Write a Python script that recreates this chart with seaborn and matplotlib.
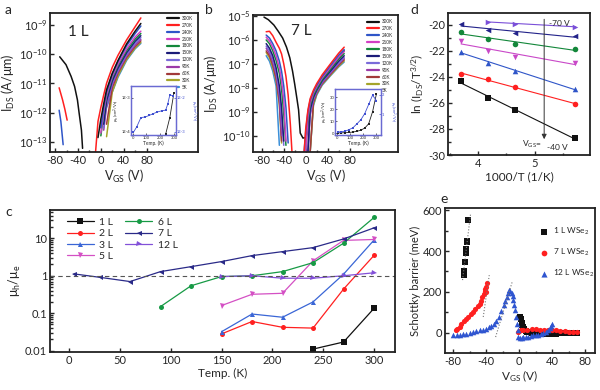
import numpy as np
import pandas as pd
import seaborn as sns
import matplotlib.pyplot as plt
from matplotlib.ticker import FixedLocator, NullLocator, MultipleLocator, LogLocator, FuncFormatter

nan = np.nan

# ---------------- panel a / b : transfer curves ----------------
TEMPS = ["300K", "270K", "240K", "210K", "180K", "150K", "120K", "90K", "60K", "30K", "5K"]
T_COLORS = ["#111111", "#ff2020", "#2f55c8", "#d23fc4", "#13873a", "#1b1b78",
            "#7a6bd9", "#9b3aa8", "#a23a3a", "#a5a52a", "#3b8fd8"]

# 1 L, electron branch (same Vgs grid for every temperature)
A_V_EL = [-10, -5, 0, 5, 10, 20, 30, 45, 60, 70]
A_I_EL = [
    [nan, 1.4e-13, 6e-13, 2e-12, 6e-12, 2.2e-11, 6e-11, 2.2e-10, 6e-10, 1.1e-9],
    [3e-14, 5e-13, 1.5e-12, 4e-12, 1e-11, 3.5e-11, 9e-11, 3e-10, 8.5e-10, 1.7e-9],
    [nan, nan, 3e-13, 1.5e-12, 5e-12, 2e-11, 5.5e-11, 1.9e-10, 5e-10, 9e-10],
    [nan, nan, 2e-13, 1.1e-12, 4e-12, 1.7e-11, 4.5e-11, 1.5e-10, 3.8e-10, 6e-10],
    [nan, nan, 1.6e-13, 9e-13, 3.5e-12, 1.5e-11, 4e-11, 1.3e-10, 3.2e-10, 5e-10],
    [nan, nan, nan, 4e-13, 2.5e-12, 1.2e-11, 3.3e-11, 1.1e-10, 2.7e-10, 4.2e-10],
    [nan, nan, nan, 3e-13, 2e-12, 1e-11, 2.8e-11, 9.5e-11, 2.3e-10, 3.6e-10],
    [nan, nan, nan, 2.5e-13, 1.6e-12, 9e-12, 2.5e-11, 8.5e-11, 2e-10, 3.1e-10],
    [nan, nan, nan, nan, 4e-13, 7e-12, 2.2e-11, 7.5e-11, 1.8e-10, 2.8e-10],
    [nan, nan, nan, nan, 1.5e-13, 5e-12, 1.8e-11, 6.5e-11, 1.6e-10, 2.5e-10],
    [nan, nan, nan, nan, 1.5e-12, 5e-12, 1.6e-11, 6e-11, 1.5e-10, 2.3e-10],
]
# 1 L, hole branch (300K, 270K, 240K only)
A_V_HOLE = [[-72, -61, -52, -46, -41, -38, -34, -32],
            [-73, -67, -63, -59],
            [-73, -70, -68, -66]]
A_I_HOLE = [[8e-11, 4.3e-11, 1.7e-11, 7.8e-12, 2.7e-12, 9.5e-13, 2.5e-13, 6e-14],
            [7e-12, 2.7e-12, 1.3e-12, 5.5e-13],
            [1.2e-12, 5e-13, 2e-13, 8e-14]]

# 7 L, 300K full sweep
B_V_300 = [-76, -68, -58, -50, -42, -35, -29, -24, -20, -16, -13, -10, -5, 0, 3, 6, 10, 20, 30, 45, 60, 70]
B_I_300 = [9e-6, 7e-6, 4.2e-6, 2.3e-6, 1.2e-6, 5e-7, 1.8e-7, 5e-8, 1.4e-8, 3.5e-9, 1.2e-9, 1.3e-10,
           8e-11, 8.5e-11, 1.5e-10, 8e-10, 2.5e-9, 1e-8, 2.5e-8, 6.5e-8, 1.7e-7, 3.5e-7]
# 7 L, hole branch 270K ... 5K
B_V_HOLE = [-72, -66, -60, -54, -48, -44, -40, -36, -32, -28, -25]
B_I_HOLE = [
    [2.2e-6, 2.3e-6, 1.5e-6, 8e-7, 4.5e-7, 2.6e-7, 1e-7, 3e-8, 5e-9, 3e-10, 2e-11],
    [1.6e-6, 1.2e-6, 7e-7, 3.5e-7, 1.3e-7, 5e-8, 1.2e-8, 1.5e-9, 5e-11, nan, nan],
    [1.3e-6, 9e-7, 5e-7, 2.2e-7, 7e-8, 2e-8, 3e-9, 6e-11, nan, nan, nan],
    [1e-6, 7e-7, 3.5e-7, 1.4e-7, 4e-8, 9e-9, 8e-10, 4e-11, nan, nan, nan],
    [7e-7, 4.5e-7, 2.2e-7, 7e-8, 1.2e-8, 1.5e-9, 6e-11, nan, nan, nan, nan],
    [5.5e-7, 3.5e-7, 1.6e-7, 5e-8, 7e-9, 6e-10, 4e-11, nan, nan, nan, nan],
    [4.5e-7, 2.8e-7, 1.2e-7, 3.5e-8, 4e-9, 1e-10, nan, nan, nan, nan, nan],
    [3.5e-7, 2.2e-7, 9e-8, 2.5e-8, 2.5e-9, 6e-11, nan, nan, nan, nan, nan],
    [3e-7, 1.8e-7, 7e-8, 2e-8, 2e-9, 5e-11, nan, nan, nan, nan, nan],
    [2.2e-7, 1.3e-7, 5e-8, 1.2e-8, 4e-11, nan, nan, nan, nan, nan, nan],
]
# 7 L, electron branch 270K ... 5K
B_V_EL = [-6, -3, 0, 4, 8, 14, 20, 30, 45, 60, 70]
B_I_EL = [
    [nan, 2e-11, 2e-10, 1.2e-9, 3.5e-9, 8e-9, 1.5e-8, 3.5e-8, 1e-7, 2.8e-7, 5e-7],
    [nan, 2e-11, 1.5e-10, 1e-9, 3e-9, 7e-9, 1.3e-8, 3e-8, 8.5e-8, 2.3e-7, 4e-7],
    [nan, nan, 2e-11, 6e-10, 2.3e-9, 6e-9, 1.1e-8, 2.6e-8, 7e-8, 1.9e-7, 3.3e-7],
    [nan, nan, 2e-11, 4e-10, 1.8e-9, 5e-9, 9e-9, 2.2e-8, 6e-8, 1.6e-7, 2.7e-7],
    [nan, nan, nan, 2e-11, 1.2e-9, 4e-9, 8e-9, 2e-8, 5e-8, 1.3e-7, 2.2e-7],
    [nan, nan, nan, 2e-11, 9e-10, 3.5e-9, 7e-9, 1.8e-8, 4.5e-8, 1.1e-7, 1.9e-7],
    [nan, nan, nan, 2e-11, 7e-10, 3e-9, 6.5e-9, 1.6e-8, 4e-8, 1e-7, 1.7e-7],
    [nan, nan, nan, nan, 2e-11, 2.5e-9, 6e-9, 1.5e-8, 3.7e-8, 9e-8, 1.5e-7],
    [nan, nan, nan, nan, 2e-11, 2e-9, 5.5e-9, 1.4e-8, 3.4e-8, 8e-8, 1.35e-7],
    [nan, nan, nan, nan, 2e-11, 1.8e-9, 5e-9, 1.3e-8, 3.2e-8, 7.5e-8, 1.2e-7],
]

# insets of a and b (mobility vs temperature)
INS_A_T_E = [5, 30, 60, 90, 120, 150, 180, 210, 240, 255, 270, 290]
INS_A_MU_E = [9.5e-4, 1.4e-3, 2.6e-3, 2.7e-3, 3.0e-3, 3.4e-3, 3.8e-3, 4.1e-3, 4.3e-3, 6.5e-3, 1.2e-2, 1.15e-2]
INS_A_T_H = [240, 270, 300]
INS_A_MU_H = [8.5e-5, 2.6e-4, 1.4e-3]
INS_B_T = [5, 30, 60, 90, 120, 150, 180, 210, 240, 270, 300]
INS_B_MU_H = [0.5, 0.5, 0.6, 0.8, 1.2, 1.8, 2.7, 4.5, 8, 18, 33]
INS_B_MU_E = [0.08, 0.09, 0.12, 0.2, 0.3, 0.5, 0.71, 1.03, 1.5, 1.98, 1.7]

# ---------------- panel c : mobility ratio ----------------
C_T = [5, 30, 60, 90, 120, 150, 180, 210, 240, 270, 300]
C_LABELS = ["1 L", "2 L", "3 L", "5 L", "6 L", "7 L", "12 L"]
C_RATIO = [
    [nan, nan, nan, nan, nan, nan, nan, nan, 0.011, 0.017, 0.135],
    [nan, nan, nan, nan, nan, 0.028, 0.06, 0.042, 0.04, 0.44, 3.5],
    [nan, nan, nan, nan, nan, 0.032, 0.095, 0.078, 0.2, 1.1, 9.0],
    [nan, nan, nan, nan, nan, 0.16, 0.32, 0.34, 2.5, 8.8, 9.3],
    [nan, nan, nan, 0.15, 0.54, 0.95, 1.0, 1.29, 2.24, 7.4, 36],
    [1.12, 0.91, 0.70, 1.29, 1.75, 2.39, 3.45, 4.41, 5.64, 9.6, 19],
    [nan, nan, nan, nan, nan, 0.95, 1.0, 0.86, 0.86, 1.0, 1.2],
]
C_COLORS = ["#111111", "#ff2020", "#3a66d6", "#d450c4", "#179a45", "#2a2a88", "#8250d8"]
C_MARKERS = ["s", "o", "^", "v", "o", "<", ">"]

# ---------------- panel d : Arrhenius plot ----------------
D_X = [3.70, 4.17, 4.65, 5.72]
D_Y = [
    [-24.31, -25.64, -26.54, -28.72],
    [-23.77, -24.15, -24.79, -26.08],
    [-22.05, -22.90, -23.51, -24.95],
    [-21.20, -22.00, -22.44, -22.90],
    [-20.51, -21.10, -21.46, -21.85],
    [-19.92, -20.38, -20.64, -20.85],
    [nan, -19.74, -19.92, -20.13],
]
D_COLORS = ["#111111", "#ff2020", "#2f55c8", "#c948c8", "#13873a", "#23238a", "#7a4fd8"]
D_MARKERS = ["s", "o", "^", "v", "o", "<", ">"]

# ---------------- panel e : Schottky barrier ----------------
E1_V = [-67, -66.5, -66, -65, -64.5, -64, -63.5, -63, -62.5,
        1, 2, 3, 4, 5, 6, 8, 10, 13, 16, 20, 25, 30, 35, 40, 45, 50, 55, 60, 65, 70]
E1_B = [285, 300, 345, 390, 400, 410, 445, 450, 550,
        78, 70, 50, 38, 28, 18, 10, 6, 3, 1, 0, -2, -4, -5, -5, -3, -1, 0, 0, 0, 0]
E7_V = [-77, -75, -72, -70, -67, -64, -62, -59, -56, -53, -50, -48, -46, -44.5, -43, -42, -41, -40.5, -40, -39.5,
        -2, 0, 2, 5, 10, 15, 20, 25, 30, 35, 40, 45, 50, 55, 60, 65, 70]
E7_B = [12, 18, 30, 46, 58, 70, 78, 90, 103, 115, 130, 142, 158, 175, 190, 205, 215, 200, 225, 245,
        5, 8, 12, 15, 16, 17, 17, 16, 15, 14, 13, 12, 10, 8, 6, 4, 3]
E12_V = [-80, -76, -72, -68, -64, -60, -56, -52, -48, -44, -40, -37, -34, -31, -28, -25, -22, -19, -17, -15,
         -13.5, -12.5, -11, -9, -8, -7, -6, -5, -4, -3, -2, -1, 1, 3, 5, 8, 11, 14, 17, 20, 23, 26, 29,
         32, 35, 37, 39, 40]
E12_B = [-11, -10, -9, -7, -4, 0, 4, 8, 12, 16, 21, 27, 34, 43, 58, 78, 105, 135, 155, 176,
         195, 212, 205, 193, 178, 160, 135, 111, 80, 46, 15, -20, -25, -23, -22, -20, -18, -15, -12, -10, -8, -5, 0,
         5, 15, 25, 35, 45]
E_FIT_V = [[-68.7, -58.9], [-43.6, -36.3], [-28.6, -8.4]]
E_FIT_B = [[258, 584], [78, 282], [-20, 250]]

# ---------------- style ----------------
sns.set_theme(style="ticks")
plt.rcParams["font.family"] = ["Lato", "DejaVu Sans"]
plt.rcParams.update({
    "mathtext.default": "regular",
    "axes.unicode_minus": False,
    "axes.linewidth": 1.3,
    "axes.edgecolor": "#222222",
    "xtick.direction": "in",
    "ytick.direction": "in",
    "xtick.major.size": 3,
    "ytick.major.size": 3,
    "xtick.minor.size": 1.8,
    "ytick.minor.size": 1.8,
    "xtick.major.width": 1,
    "ytick.major.width": 1,
    "xtick.labelsize": 8,
    "ytick.labelsize": 8,
    "axes.labelsize": 8.5,
    "axes.labelpad": 1.5,
    "xtick.major.pad": 2,
    "ytick.major.pad": 2,
})


def draw(ax, xs, ys, color, label=None, lw=1.1, **kw):
    d = pd.DataFrame({"x": xs, "y": ys}).dropna()
    sns.lineplot(data=d, x="x", y="y", ax=ax, color=color, lw=lw, sort=False,
                 estimator=None, label=label, **kw)


def box(l, t, r, b):
    return [l / 600, 1 - b / 390, (r - l) / 600, (b - t) / 390]


fig = plt.figure(figsize=(6, 3.9), dpi=100)
axA = fig.add_axes(box(50, 13, 198, 152))
axB = fig.add_axes(box(253, 15, 398, 152))
axD = fig.add_axes(box(448, 13, 590, 155))
axC = fig.add_axes(box(50, 210, 395, 352))
axE = fig.add_axes(box(445, 208, 595, 353))

# ---- a ----
for i in range(len(TEMPS) - 1, -1, -1):
    draw(axA, A_V_EL, A_I_EL[i], T_COLORS[i], label=TEMPS[i])
for k in range(3):
    draw(axA, A_V_HOLE[k], A_I_HOLE[k], T_COLORS[k])
axA.set_yscale("log")
axA.set_ylim(4.5e-14, 2.5e-9)
axA.set_xlim(-89, 170)

# ---- b ----
draw(axB, B_V_300, B_I_300, T_COLORS[0], label=TEMPS[0])
for i in range(len(TEMPS) - 1, 0, -1):
    draw(axB, B_V_HOLE, B_I_HOLE[i - 1], T_COLORS[i])
    draw(axB, B_V_EL, B_I_EL[i - 1], T_COLORS[i], label=TEMPS[i])
axB.set_yscale("log")
axB.set_ylim(2.1e-11, 1.1e-5)
axB.set_xlim(-96, 168)

for ax, corner in [(axA, (0.985, 1.0)), (axB, (0.985, 0.99))]:
    ax.xaxis.set_major_locator(FixedLocator([-80, -40, 0, 40, 80]))
    ax.xaxis.set_minor_locator(FixedLocator([-60, -20, 20, 60]))
    ax.yaxis.set_major_locator(LogLocator(base=10, numticks=12))
    ax.yaxis.set_minor_locator(NullLocator())
    ax.set_xlabel("V$_{GS}$ (V)", fontsize=9)
    ax.set_ylabel("I$_{DS}$ (A/μm)", fontsize=9)
    h, l = ax.get_legend_handles_labels()
    order = [l.index(t) for t in TEMPS]
    leg = ax.legend([h[j] for j in order], [l[j] for j in order], loc="upper right",
                    bbox_to_anchor=corner, frameon=False, fontsize=3.3, handlelength=2.6,
                    handletextpad=0.6, labelspacing=0.42, borderaxespad=0.2)
    for lh in leg.get_lines():
        lh.set_linewidth(1.6)

axA.text(0.19, 0.86, "1 L", transform=axA.transAxes, fontsize=11, ha="center", va="center")
axB.text(0.33, 0.88, "7 L", transform=axB.transAxes, fontsize=11, ha="center", va="center")

# insets
INS_EDGE = "#6a6ad2"
for axI_box, kind in [(box(131, 86, 176, 135), "a"), (box(335, 89, 381, 135), "b")]:
    axI = fig.add_axes(axI_box)
    axR = axI.twinx()
    if kind == "a":
        draw(axI, INS_A_T_H, INS_A_MU_H, "#222222", lw=0.6, marker="s", markersize=1.6, markeredgewidth=0)
        draw(axR, INS_A_T_E, INS_A_MU_E, "#3f4fd0", lw=0.6, marker="s", markersize=1.6, markeredgewidth=0)
        axI.set_yscale("log")
        axR.set_yscale("log")
        axI.set_ylim(8e-5, 2.2e-3)
        axR.set_ylim(8e-4, 2.2e-2)
        axI.set_xlim(-12, 315)
        axI.yaxis.set_major_locator(FixedLocator([1e-4, 1e-3]))
        axI.yaxis.set_major_formatter(FuncFormatter(lambda v, p: "1E%d" % round(np.log10(v))))
        axR.yaxis.set_major_locator(FixedLocator([1e-3, 1e-2]))
        axR.yaxis.set_major_formatter(FuncFormatter(lambda v, p: "1E%d" % round(np.log10(v))))
        axI.yaxis.set_minor_locator(NullLocator())
        axR.yaxis.set_minor_locator(NullLocator())
    else:
        draw(axI, INS_B_T, INS_B_MU_H, "#222222", lw=0.6, marker="s", markersize=1.6, markeredgewidth=0)
        draw(axR, INS_B_T, INS_B_MU_E, "#3f4fd0", lw=0.6, marker="s", markersize=1.6, markeredgewidth=0)
        axI.set_ylim(-1.3, 37)
        axR.set_ylim(-0.08, 2.3)
        axI.set_xlim(-19, 335)
        axI.yaxis.set_major_locator(FixedLocator([0, 10, 20, 30]))
        axR.yaxis.set_major_locator(FixedLocator([1, 2]))
    axI.xaxis.set_major_locator(FixedLocator([0, 100, 200, 300]))
    for a in (axI, axR):
        a.tick_params(labelsize=3.0, length=1.2, width=0.5, pad=0.6)
        for s in a.spines.values():
            s.set_color(INS_EDGE)
            s.set_linewidth(0.9)
    axR.tick_params(axis="y", colors="#3f4fd0", labelsize=3.0)
    axI.set_xlabel("Temp. (K)", fontsize=3.5, labelpad=0.4)
    axI.set_ylabel("μ$_h$ (cm$^2$/Vs)", fontsize=3.0, labelpad=0.4)
    axR.set_ylabel("μ$_e$ (cm$^2$/Vs)", fontsize=2.8, labelpad=2.6, color="#3f4fd0", rotation=270, va="bottom")

# ---- c ----
for i, name in enumerate(C_LABELS):
    draw(axC, C_T, C_RATIO[i], C_COLORS[i], label=name, lw=0.9, marker=C_MARKERS[i],
         markersize=4.2 if i == 0 else 3.6, markeredgewidth=0)
axC.axhline(1, ls=(0, (4, 3)), color="#555555", lw=0.8)
axC.set_yscale("log")
axC.set_ylim(0.0092, 57)
axC.set_xlim(-18.7, 320.6)
axC.xaxis.set_major_locator(MultipleLocator(50))
axC.yaxis.set_major_locator(FixedLocator([0.01, 0.1, 1, 10]))
axC.yaxis.set_major_formatter(FuncFormatter(lambda v, p: "%g" % v))
axC.yaxis.set_minor_locator(LogLocator(base=10, subs=range(2, 10), numticks=12))
axC.set_xlabel("Temp. (K)", fontsize=8.5)
axC.set_ylabel("μ$_h$/μ$_e$", fontsize=9)
axC.legend(loc="upper left", bbox_to_anchor=(0.03, 0.99), ncol=2, frameon=False, fontsize=7.5,
           handlelength=2.6, handletextpad=0.5, labelspacing=0.2, columnspacing=1.2, borderaxespad=0.2)

# ---- d ----
for i in range(len(D_Y)):
    d = pd.DataFrame({"x": D_X, "y": D_Y[i]}).dropna()
    sns.regplot(data=d, x="x", y="y", ax=axD, ci=None, color=D_COLORS[i], marker=D_MARKERS[i],
                scatter_kws={"s": 16, "linewidths": 0, "alpha": 1}, line_kws={"lw": 0.8})
axD.set_xlim(3.47, 5.98)
axD.set_ylim(-30, -19.08)
axD.xaxis.set_major_locator(MultipleLocator(1))
axD.xaxis.set_minor_locator(MultipleLocator(0.5))
axD.yaxis.set_major_locator(MultipleLocator(2))
axD.yaxis.set_minor_locator(MultipleLocator(1))
axD.set_xlabel("1000/T (1/K)", fontsize=8.5)
axD.set_ylabel("ln (I$_{DS}$/T$^{3/2}$)", fontsize=8.5)
axD.annotate("", xy=(5.17, -29.0), xytext=(5.17, -19.35),
             arrowprops=dict(arrowstyle="-|>", color="#333333", lw=0.7, mutation_scale=7))
axD.text(5.25, -19.85, "-70 V", fontsize=6, va="center")
axD.text(4.78, -29.15, "V$_{GS}$=", fontsize=6, va="center")
axD.text(5.22, -29.4, "-40 V", fontsize=6, va="center")

# ---- e ----
sns.scatterplot(x=E1_V, y=E1_B, ax=axE, marker="s", color="#111111", s=14, linewidth=0, label="1 L WSe$_2$")
sns.scatterplot(x=E7_V, y=E7_B, ax=axE, marker="o", color="#ff2020", s=14, linewidth=0, label="7 L WSe$_2$")
sns.scatterplot(x=E12_V, y=E12_B, ax=axE, marker="^", color="#2f55d0", s=16, linewidth=0, label="12 L WSe$_2$")
for k in range(3):
    draw(axE, E_FIT_V[k], E_FIT_B[k], "#777777", lw=0.8, ls=":")
axE.set_xlim(-90, 92)
axE.set_ylim(-98, 610)
axE.xaxis.set_major_locator(MultipleLocator(40))
axE.xaxis.set_minor_locator(MultipleLocator(20))
axE.yaxis.set_major_locator(MultipleLocator(200))
axE.yaxis.set_minor_locator(MultipleLocator(100))
axE.set_xlabel("V$_{GS}$ (V)", fontsize=8.5)
axE.set_ylabel("Schottky barrier (meV)", fontsize=8)
axE.legend(loc="upper left", bbox_to_anchor=(0.58, 0.9), frameon=False, fontsize=6,
           handletextpad=0.1, labelspacing=1.2, borderaxespad=0, markerscale=1.1)

for ax in (axA, axB, axC, axD, axE):
    ax.tick_params(which="both", top=False, right=False)

# panel letters
for x, y, s in [(5, 10, "a"), (205, 10, "b"), (410, 10, "d"), (5, 212, "c"), (440, 199, "e")]:
    fig.text(x / 600, 1 - y / 390, s, fontsize=10, va="center")

fig.savefig("out.png", dpi=100)
